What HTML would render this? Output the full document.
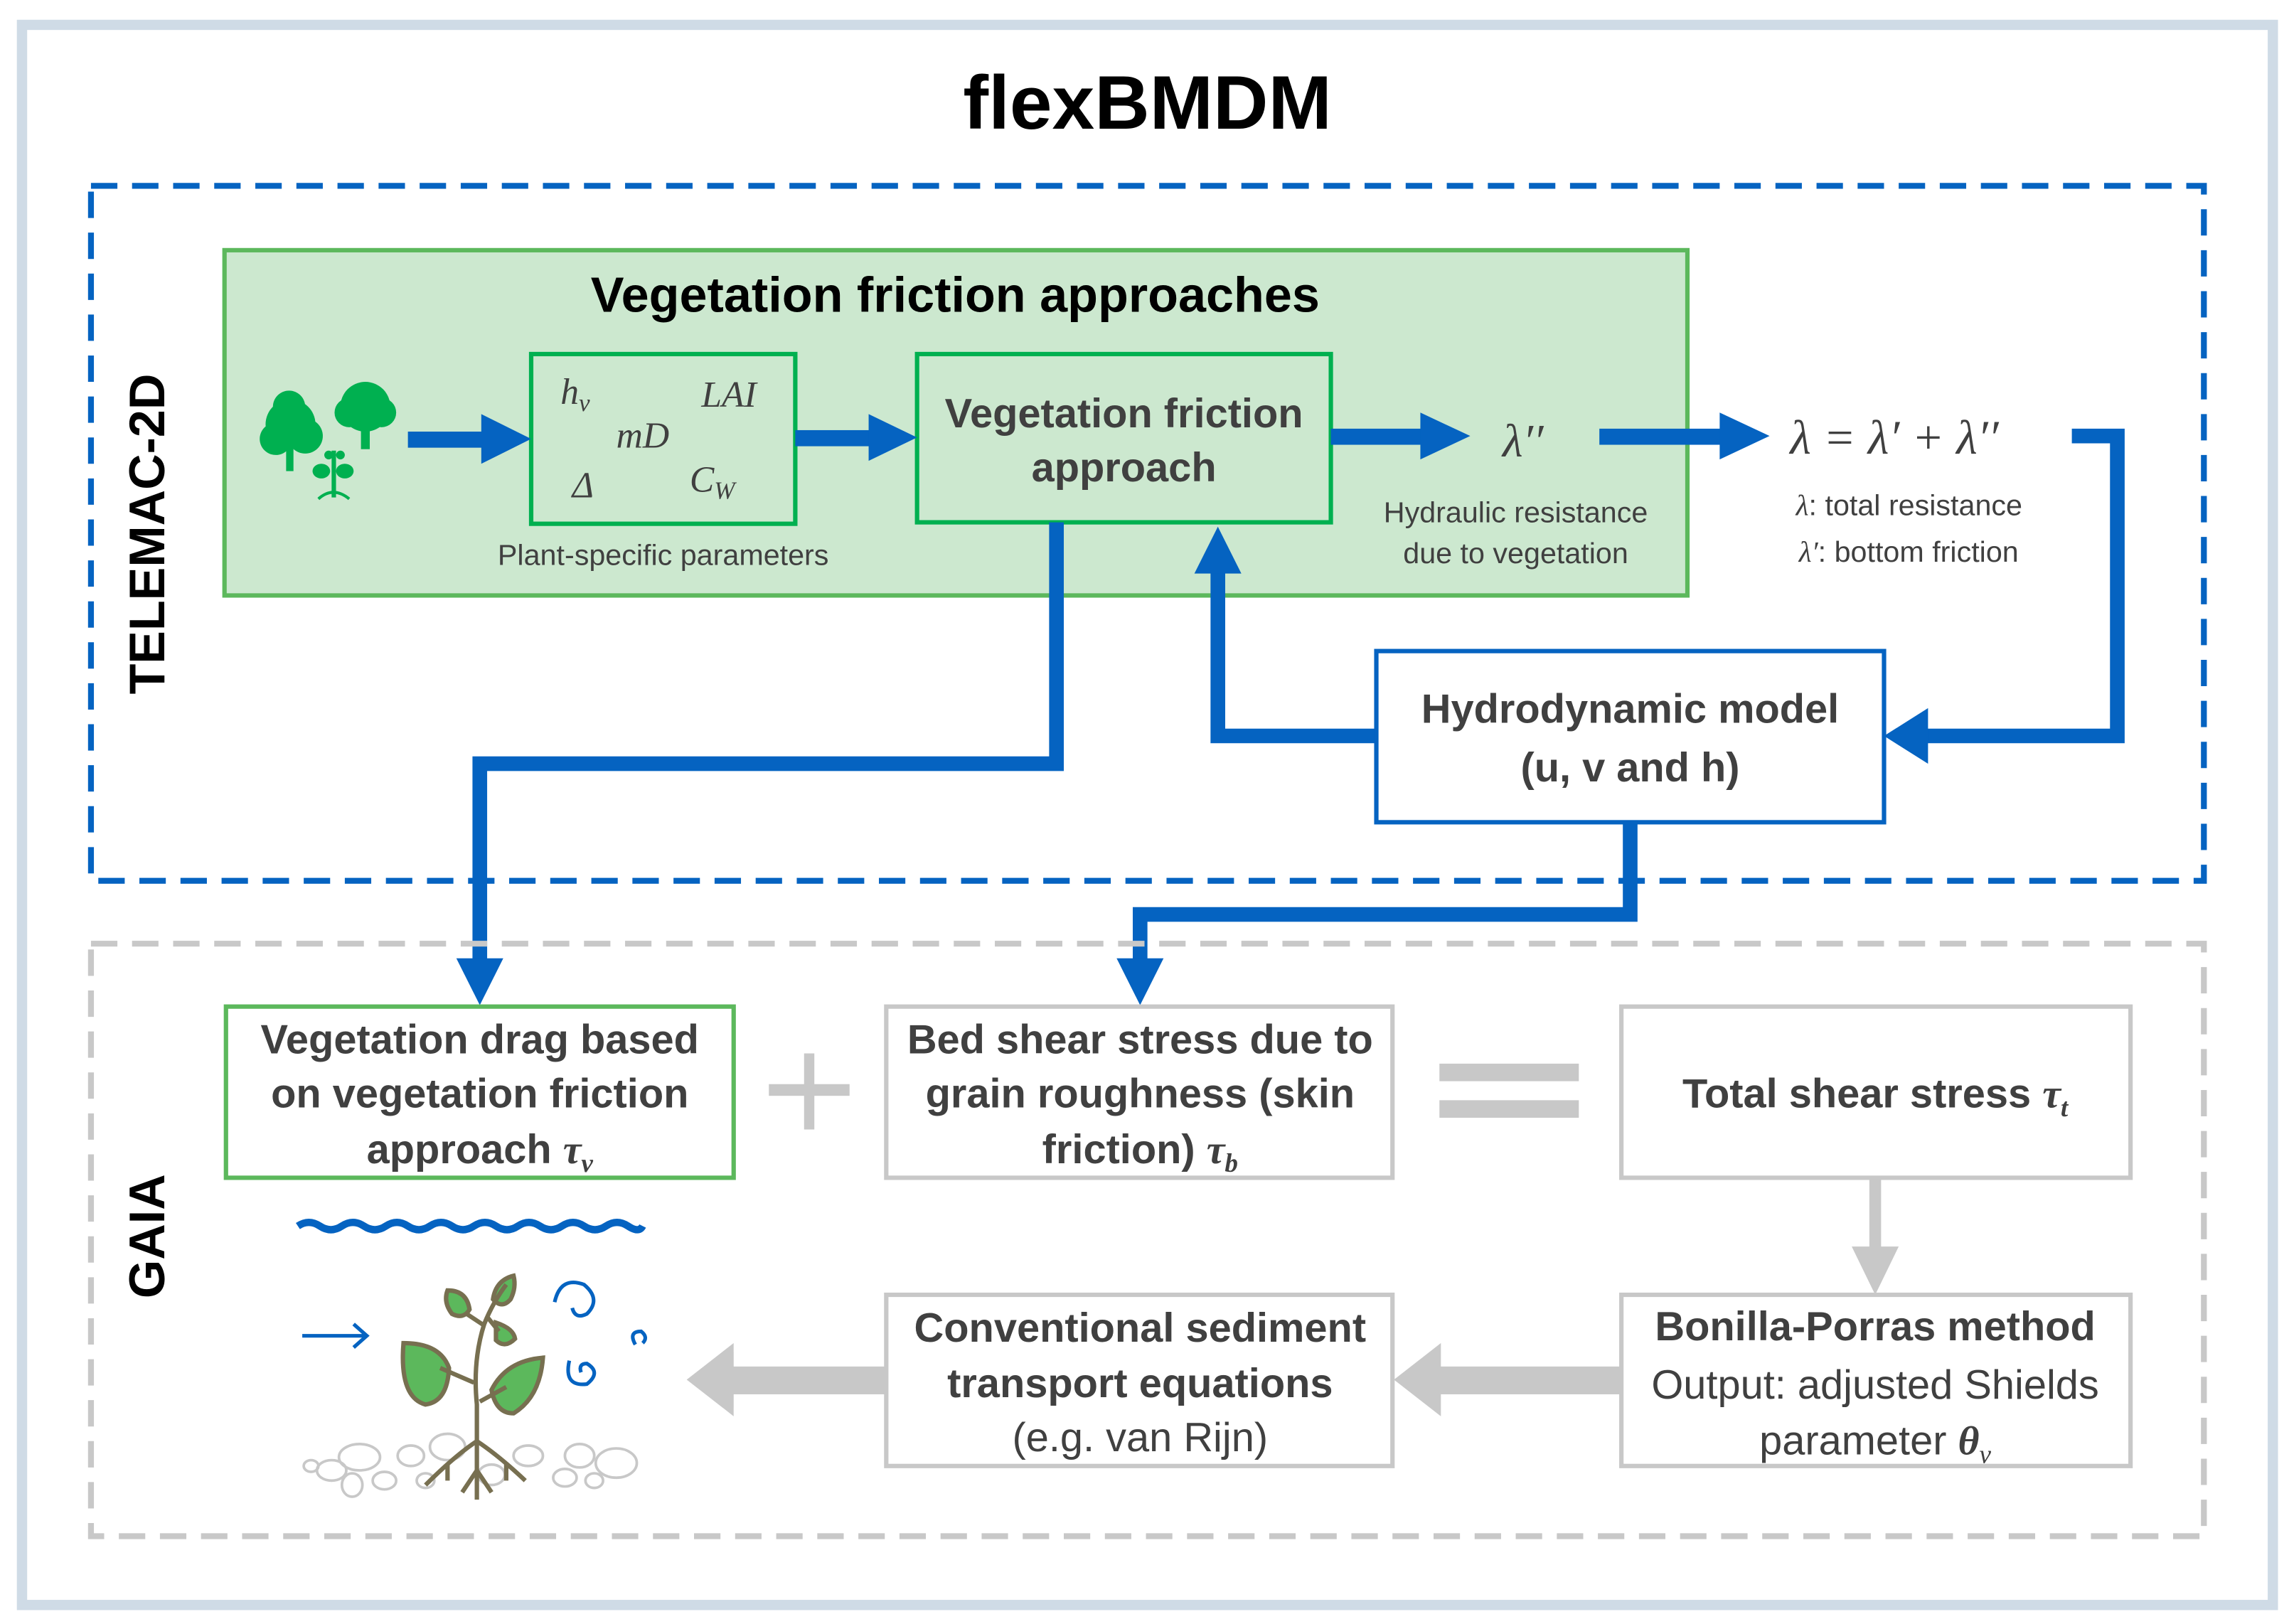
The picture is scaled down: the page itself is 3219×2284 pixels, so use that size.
<!DOCTYPE html>
<html><head><meta charset="utf-8"><style>
html,body{margin:0;padding:0;background:#fff;}
svg{display:block;}
text{font-family:"Liberation Sans",sans-serif;}
.m{font-family:"Liberation Serif",serif;font-style:italic;}
</style></head><body>
<svg width="3219" height="2284" viewBox="0 0 1560 1110" preserveAspectRatio="none" xmlns="http://www.w3.org/2000/svg">
<rect x="0" y="0" width="1560" height="1110" fill="#fff"/>
<rect x="15" y="17" width="1534" height="1080" fill="#fff" stroke="#cfdbe6" stroke-width="7"/>
<text x="782" y="88" text-anchor="middle" font-size="52" font-weight="bold" fill="#000">flexBMDM</text>

<rect x="62" y="127" width="1440" height="475" fill="none" stroke="#0563c1" stroke-width="4" stroke-dasharray="18,10"/>
<text transform="translate(112,365) rotate(-90)" text-anchor="middle" font-size="34" font-weight="bold" fill="#000">TELEMAC-2D</text>

<rect x="153" y="171" width="997" height="236" fill="#cce8cf" stroke="#5cb85c" stroke-width="3"/>
<text x="651" y="213" text-anchor="middle" font-size="34" font-weight="bold" fill="#000">Vegetation friction approaches</text>

<g fill="#00b050">
<circle cx="198" cy="290" r="17"/><circle cx="188" cy="300" r="11"/><circle cx="208" cy="298" r="12"/><circle cx="197" cy="278" r="11"/>
<rect x="195" y="300" width="5" height="22"/>
<circle cx="249" cy="278" r="17"/><circle cx="238" cy="282" r="10"/><circle cx="260" cy="282" r="10"/>
<rect x="246" y="285" width="6" height="22"/>
<rect x="226" y="308" width="3" height="32"/>
<ellipse cx="219" cy="322" rx="6" ry="5"/><ellipse cx="235" cy="322" rx="6" ry="5"/><ellipse cx="224" cy="311" rx="3" ry="3"/><ellipse cx="232" cy="311" rx="3" ry="3"/>
<path d="M217 341 Q227 332 238 341" fill="none" stroke="#00b050" stroke-width="2"/>
</g>

<rect x="362" y="242" width="180" height="116" fill="none" stroke="#00b050" stroke-width="3"/>
<g font-size="25" fill="#404040">
<text x="382" y="276" class="m">h<tspan font-size="17" dy="5">v</tspan></text>
<text x="478" y="278" class="m">LAI</text>
<text x="420" y="306" class="m">mD</text>
<text x="390" y="340" class="m">Δ</text>
<text x="470" y="336" class="m">C<tspan font-size="17" dy="5">W</tspan></text>
</g>
<text x="452" y="386" text-anchor="middle" font-size="20" fill="#404040">Plant-specific parameters</text>

<rect x="625" y="242" width="282" height="115" fill="none" stroke="#00b050" stroke-width="3"/>
<text x="766" y="292" text-anchor="middle" font-size="28" font-weight="bold" fill="#404040">Vegetation friction</text>
<text x="766" y="329" text-anchor="middle" font-size="28" font-weight="bold" fill="#404040">approach</text>

<g fill="#0563c1">
<rect x="278" y="295" width="52" height="11"/><polygon points="328,283 362,300 328,317"/>
<rect x="542" y="294" width="52" height="11"/><polygon points="592,283 625,299 592,315"/>
<rect x="907" y="293" width="63" height="11"/><polygon points="968,282 1002,298 968,314"/>
<rect x="1090" y="293" width="84" height="11"/><polygon points="1172,282 1206,298 1172,314"/>
</g>
<text x="1024" y="312" font-size="32" class="m" fill="#404040">λ′′</text>
<text x="1033" y="357" text-anchor="middle" font-size="20" fill="#404040">Hydraulic resistance</text>
<text x="1033" y="385" text-anchor="middle" font-size="20" fill="#404040">due to vegetation</text>
<text x="1220" y="310" font-size="33" class="m" fill="#404040">λ = λ′ + λ′′</text>
<text x="1224" y="352" font-size="20" fill="#404040"><tspan class="m">λ</tspan>: total resistance</text>
<text x="1226" y="384" font-size="20" fill="#404040"><tspan class="m">λ′</tspan>: bottom friction</text>

<g fill="none" stroke="#0563c1" stroke-width="10">
<path d="M1412 298 H1443 V503 H1310"/>
<path d="M938 503 H830 V388"/>
<path d="M720 357 V522 H327 V660"/>
<path d="M1111 562 V625 H777 V660"/>
</g>
<g fill="#0563c1">
<polygon points="1284,503 1314,484 1314,522"/>
<polygon points="830,360 814,392 846,392"/>
<polygon points="327,687 311,655 343,655"/>
<polygon points="777,687 761,655 793,655"/>
</g>

<rect x="938" y="445" width="346" height="117" fill="#fff" stroke="#0563c1" stroke-width="3"/>
<text x="1111" y="494" text-anchor="middle" font-size="28" font-weight="bold" fill="#404040">Hydrodynamic model</text>
<text x="1111" y="534" text-anchor="middle" font-size="28" font-weight="bold" fill="#404040">(u, v and h)</text>

<rect x="62" y="645" width="1440" height="405" fill="none" stroke="#c8c8c8" stroke-width="4" stroke-dasharray="18,10"/>
<text transform="translate(112,845) rotate(-90)" text-anchor="middle" font-size="34" font-weight="bold" fill="#000">GAIA</text>

<rect x="154" y="688" width="346" height="117" fill="#fff" stroke="#5cb85c" stroke-width="3"/>
<g font-size="28" font-weight="bold" fill="#404040" text-anchor="middle">
<text x="327" y="720">Vegetation drag based</text>
<text x="327" y="757">on vegetation friction</text>
<text x="327" y="795">approach <tspan class="m">τ</tspan><tspan class="m" font-size="18" dy="6">v</tspan></text>
</g>
<rect x="548" y="720" width="7" height="52" fill="#c8c8c8"/><rect x="524" y="741" width="55" height="8" fill="#c8c8c8"/>
<rect x="604" y="688" width="345" height="117" fill="#fff" stroke="#c8c8c8" stroke-width="3"/>
<g font-size="28" font-weight="bold" fill="#404040" text-anchor="middle">
<text x="777" y="720">Bed shear stress due to</text>
<text x="777" y="757">grain roughness (skin</text>
<text x="777" y="795">friction) <tspan class="m">τ</tspan><tspan class="m" font-size="18" dy="6">b</tspan></text>
</g>
<rect x="981" y="727" width="95" height="12" fill="#c8c8c8"/><rect x="981" y="752" width="95" height="12" fill="#c8c8c8"/>
<rect x="1105" y="688" width="347" height="117" fill="#fff" stroke="#c8c8c8" stroke-width="3"/>
<text x="1278" y="757" text-anchor="middle" font-size="28" font-weight="bold" fill="#404040">Total shear stress <tspan class="m">τ</tspan><tspan class="m" font-size="18" dy="6">t</tspan></text>

<rect x="1274" y="805" width="8" height="50" fill="#c8c8c8"/><polygon points="1262,852 1294,852 1278,885" fill="#c8c8c8"/>

<rect x="1105" y="885" width="347" height="117" fill="#fff" stroke="#c8c8c8" stroke-width="3"/>
<g text-anchor="middle" fill="#404040" font-size="28">
<text x="1278" y="916" font-weight="bold">Bonilla-Porras method</text>
<text x="1278" y="956">Output: adjusted Shields</text>
<text x="1278" y="994">parameter <tspan class="m" font-weight="bold">θ</tspan><tspan class="m" font-size="18" dy="6">v</tspan></text>
</g>
<rect x="604" y="885" width="345" height="117" fill="#fff" stroke="#c8c8c8" stroke-width="3"/>
<g text-anchor="middle" fill="#404040" font-size="28">
<text x="777" y="917" font-weight="bold">Conventional sediment</text>
<text x="777" y="955" font-weight="bold">transport equations</text>
<text x="777" y="992">(e.g. van Rijn)</text>
</g>
<rect x="980" y="934" width="125" height="19" fill="#c8c8c8"/><polygon points="950,943 982,918 982,968" fill="#c8c8c8"/>
<rect x="498" y="934" width="106" height="19" fill="#c8c8c8"/><polygon points="468,943 500,918 500,968" fill="#c8c8c8"/>

<path d="M203 838 q7.5 -5 15 0 t15 0 t15 0 t15 0 t15 0 t15 0 t15 0 t15 0 t15 0 t15 0 t15 0 t15 0 t15 0 t15 0 t15 0 t10 0" fill="none" stroke="#0563c1" stroke-width="5"/>
<g fill="none" stroke="#0563c1" stroke-width="2.5">
<path d="M206 913 H250 M241 905 L250 913 L241 921"/>
<path d="M378 890 Q382 872 398 878 Q410 888 400 898 Q392 902 390 894"/>
<path d="M433 919 Q428 910 437 910 Q442 914 438 918"/>
<path d="M388 930 Q384 948 400 946 Q410 938 400 932 Q394 932 396 938"/>
</g>
<g fill="none" stroke="#c8c8c8" stroke-width="1.8">
<ellipse cx="245" cy="996" rx="14" ry="9"/><ellipse cx="280" cy="995" rx="9" ry="7"/><ellipse cx="305" cy="989" rx="12" ry="9"/>
<ellipse cx="226" cy="1005" rx="10" ry="7"/><ellipse cx="262" cy="1012" rx="8" ry="6"/><ellipse cx="240" cy="1015" rx="7" ry="8"/>
<ellipse cx="360" cy="995" rx="10" ry="7"/><ellipse cx="395" cy="995" rx="10" ry="8"/><ellipse cx="420" cy="1000" rx="14" ry="10"/>
<ellipse cx="385" cy="1010" rx="8" ry="6"/><ellipse cx="212" cy="1002" rx="5" ry="4"/><ellipse cx="335" cy="1008" rx="9" ry="7"/>
<ellipse cx="290" cy="1012" rx="6" ry="5"/><ellipse cx="405" cy="1012" rx="6" ry="5"/>
</g>
<g fill="#5cb85c" stroke="#776f50" stroke-width="3">
<path d="M275 918 Q300 918 306 935 Q305 958 290 960 Q272 955 275 918Z"/>
<path d="M370 928 Q345 930 335 950 Q338 966 350 966 Q368 955 370 928Z"/>
<path d="M305 882 Q318 882 320 895 Q316 902 308 898 Q302 890 305 882Z"/>
<path d="M350 872 Q338 875 336 888 Q342 895 348 888 Q352 880 350 872Z"/>
<path d="M338 904 Q350 908 351 915 Q344 922 338 916Z"/>
</g>
<g fill="none" stroke="#776f50" stroke-width="3">
<path d="M325 1025 V960 Q322 930 330 905 Q336 890 345 878"/>
<path d="M325 985 Q310 995 290 1015 M325 985 Q340 995 358 1012 M325 1005 L315 1020 M325 1005 L335 1020 M305 1000 V1012 M345 1000 V1012"/>
<path d="M323 945 L300 935 M327 958 L345 948 M330 906 L318 898 M332 900 L340 910"/>
</g>
</svg>
</body></html>
